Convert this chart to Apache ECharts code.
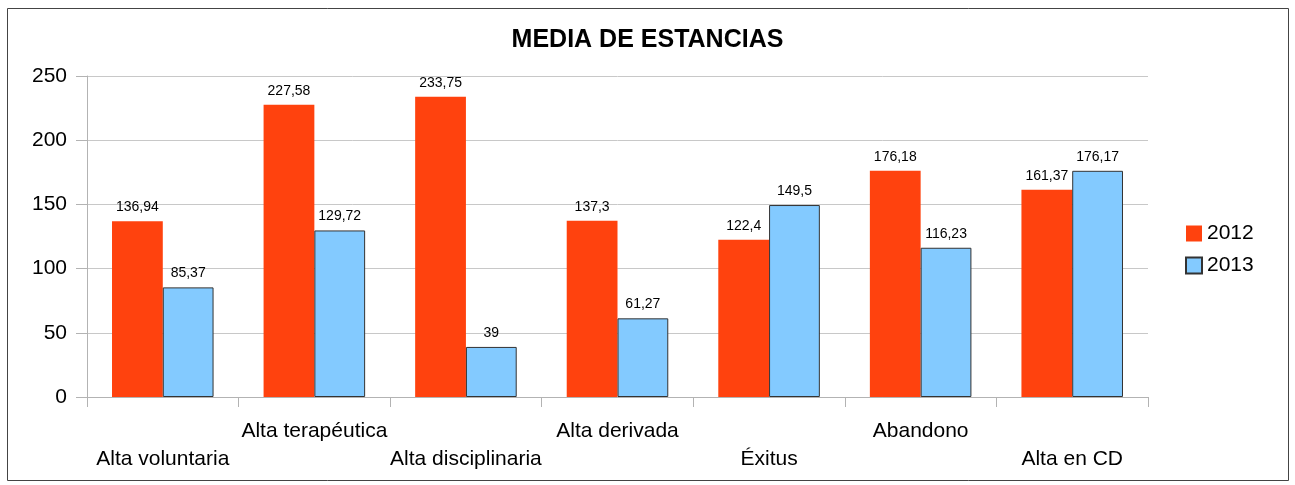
<!DOCTYPE html>
<html>
<head>
<meta charset="utf-8">
<script src="https://cdn.jsdelivr.net/npm/echarts@6/dist/echarts.min.js"></script>
<style>
  html, body { margin: 0; padding: 0; background: #fff; }
  #chart { width: 1295px; height: 485px; }
</style>
</head>
<body>
<div id="chart"></div>
<script>
// categorias y valores
const categorias = ['Alta voluntaria', 'Alta terapéutica', 'Alta disciplinaria', 'Alta derivada', 'Éxitus', 'Abandono', 'Alta en CD'];
const datos2012 = [136.94, 227.58, 233.75, 137.3, 122.4, 176.18, 161.37];
const datos2013 = [85.37, 129.72, 39, 61.27, 149.5, 116.23, 176.17];
const series = ['2012', '2013'];

const fuente = 'Liberation Sans, Arial, sans-serif';

function coma(v) {
  return String(v).replace('.', ',');
}

function renderChart() {
  const dom = document.getElementById('chart');
  const chart = echarts.init(dom);
  const option = {
    animation: false,
    textStyle: { fontFamily: fuente },
    title: {
      text: 'MEDIA DE ESTANCIAS',
      left: 'center',
      top: 23,
      textStyle: {
        fontFamily: fuente,
        fontWeight: 'bold',
        fontSize: 25,
        color: '#000'
      }
    },
    graphic: [
      {
        type: 'rect',
        shape: { x: 7.5, y: 8.5, width: 1281, height: 472 },
        style: { fill: null, stroke: '#444', lineWidth: 1 },
        silent: true
      }
    ],
    legend: {
      orient: 'vertical',
      left: 1180,
      top: 218,
      icon: 'rect',
      itemWidth: 16,
      itemHeight: 16,
      itemGap: 11,
      textStyle: { fontSize: 21, color: '#000', fontFamily: fuente },
      data: series
    },
    grid: {
      left: 87,
      right: 147,
      top: 76,
      bottom: 88
    },
    xAxis: {
      type: 'category',
      data: categorias,
      axisLine: { lineStyle: { color: '#b3b3b3', width: 1 } },
      axisTick: { show: true, length: 10, lineStyle: { color: '#b3b3b3' } },
      axisLabel: {
        interval: 0,
        margin: 20,
        fontSize: 21,
        color: '#000',
        lineHeight: 28,
        fontFamily: fuente,
        formatter: function (v, i) {
          return i % 2 === 0 ? '\n' + v : v;
        }
      }
    },
    yAxis: {
      type: 'value',
      min: 0,
      max: 250,
      interval: 50,
      axisLine: { show: true, lineStyle: { color: '#b3b3b3' } },
      axisTick: { show: true, length: 11, lineStyle: { color: '#b3b3b3' } },
      splitLine: { lineStyle: { color: '#c8c8c8' } },
      axisLabel: { fontSize: 21, color: '#000', margin: 20, fontFamily: fuente }
    },
    series: [
      {
        name: '2012',
        type: 'bar',
        data: datos2012,
        barGap: '0%',
        barCategoryGap: '33%',
        itemStyle: { color: '#ff420e' },
        label: {
          show: true,
          position: 'top',
          distance: 7,
          fontSize: 14,
          color: '#000',
          fontFamily: fuente,
          formatter: p => coma(p.value)
        }
      },
      {
        name: '2013',
        type: 'bar',
        data: datos2013,
        itemStyle: { color: '#83caff', borderColor: '#333', borderWidth: 1 },
        label: {
          show: true,
          position: 'top',
          distance: 7,
          fontSize: 14,
          color: '#000',
          fontFamily: fuente,
          formatter: p => coma(p.value)
        }
      }
    ]
  };
  chart.setOption(option, true);
}
renderChart();
</script>
</body>
</html>
